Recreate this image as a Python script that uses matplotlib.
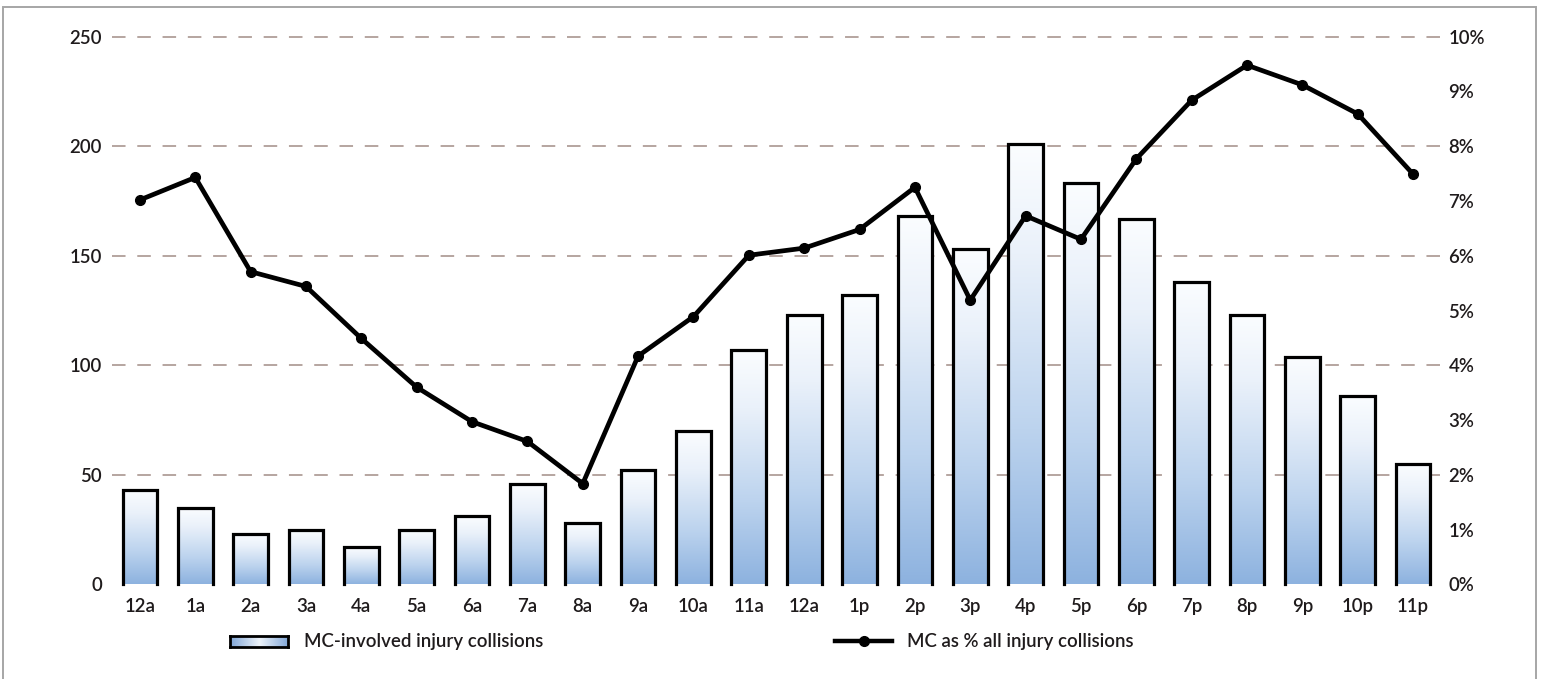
import numpy as np
import matplotlib
matplotlib.use("Agg")
import matplotlib.pyplot as plt
from matplotlib.patches import Rectangle
from matplotlib.lines import Line2D
from matplotlib.colors import LinearSegmentedColormap

# Hour-of-day categories
hours = ["12a", "1a", "2a", "3a", "4a", "5a", "6a", "7a", "8a", "9a", "10a", "11a",
         "12a", "1p", "2p", "3p", "4p", "5p", "6p", "7p", "8p", "9p", "10p", "11p"]

# Motorcycle-involved injury collisions per hour
mc_collisions = [43, 35, 23, 25, 17, 25, 31, 46, 28, 52, 70, 107,
                 123, 132, 168, 153, 201, 183, 167, 138, 123, 104, 86, 55]

# Motorcycle collisions as a share of all injury collisions (%)
mc_share = [7.02, 7.43, 5.71, 5.44, 4.49, 3.60, 2.97, 2.61, 1.84, 4.17, 4.89, 6.01,
            6.14, 6.48, 7.25, 5.19, 6.73, 6.30, 7.77, 8.84, 9.48, 9.12, 8.59, 7.49]

left_ticks = [0, 50, 100, 150, 200, 250]
right_ticks = [0, 1, 2, 3, 4, 5, 6, 7, 8, 9, 10]

FONT = "Lato"
WEIGHT = "semibold"
FSIZE = 13.4
TEXT_COLOR = "#1f1b1c"
GRID_COLOR = "#b09e98"

W, H = 1541, 679
fig = plt.figure(figsize=(W / 100, H / 100), dpi=100)
fig.patch.set_facecolor("white")

# thin grey frame around the chart panel
fig.patches.append(Rectangle((3 / W, -0.05), (1536 - 3) / W, 1.05 - 7 / H,
                             transform=fig.transFigure, fill=False,
                             edgecolor="#a6a6a6", linewidth=1.4))

ax_l, ax_r = 111.7 / W, 1443 / W
ax_b, ax_t = 1 - 584.4 / H, 1 - 36.7 / H
ax = fig.add_axes([ax_l, ax_b, ax_r - ax_l, ax_t - ax_b])
ax.set_xlim(-0.51, 23.54)
ax.set_ylim(0, 250)
for s in ax.spines.values():
    s.set_visible(False)

# dashed horizontal guides
for v in left_ticks[1:]:
    ln = ax.axhline(v, color=GRID_COLOR, linewidth=1.3, zorder=0, clip_on=False)
    ln.set_dashes((7.5, 6.5))

x = np.arange(len(hours))
bw = 0.627

# vertical gradient: pale at the top, soft blue at the bottom
bar_cmap = LinearSegmentedColormap.from_list(
    "barfill", [(0.0, "#8db2df"), (0.35, "#bcd3ee"), (0.75, "#eaf1fa"), (1.0, "#fbfdff")])
grad = np.linspace(0, 1, 256).reshape(-1, 1)

bars = ax.bar(x, mc_collisions, width=bw, facecolor="none", edgecolor="none", zorder=2)
for rect in bars:
    x0, w, h = rect.get_x(), rect.get_width(), rect.get_height()
    im = ax.imshow(grad, cmap=bar_cmap, origin="lower", aspect="auto",
                   extent=[x0, x0 + w, 0, h], zorder=2, interpolation="bilinear")
    im.set_clip_path(rect)
    ax.plot([x0, x0, x0 + w, x0 + w], [0, h, h, 0], color="black",
            linewidth=2.3, solid_joinstyle="miter", zorder=3, clip_on=False)

ax.set_xticks(x)
ax.set_xticklabels(hours)
ax.set_yticks(left_ticks)
ax.tick_params(axis="both", length=0, labelsize=FSIZE, colors=TEXT_COLOR)
ax.tick_params(axis="x", pad=10)
ax.tick_params(axis="y", pad=7)
for lab in ax.get_xticklabels() + ax.get_yticklabels():
    lab.set_fontfamily(FONT)
    lab.set_fontweight(WEIGHT)

ax2 = ax.twinx()
ax2.set_ylim(0, 10)
for s in ax2.spines.values():
    s.set_visible(False)
ax2.set_yticks(right_ticks)
ax2.set_yticklabels([f"{t}%" for t in right_ticks])
ax2.tick_params(axis="y", length=0, labelsize=FSIZE, colors=TEXT_COLOR, pad=4)
for lab in ax2.get_yticklabels():
    lab.set_fontfamily(FONT)
    lab.set_fontweight(WEIGHT)
ax2.plot(x, mc_share, color="black", linewidth=3.4, marker="o", markersize=7,
         zorder=5, clip_on=False)

# legend: gradient swatch for the bars
sw = fig.add_axes([230 / W, 1 - 647 / H, 58 / W, 11 / H])
leg_cmap = LinearSegmentedColormap.from_list("legfill", ["#7fa5d6", "#eef4fb", "#7fa5d6"])
sw.imshow(np.linspace(0, 1, 256).reshape(1, -1), cmap=leg_cmap, aspect="auto",
          interpolation="bilinear")
sw.set_xticks([])
sw.set_yticks([])
for s in sw.spines.values():
    s.set_linewidth(2.0)
    s.set_edgecolor("black")
fig.text(304 / W, 1 - 641.5 / H, "MC-involved injury collisions", family=FONT,
         weight=WEIGHT, fontsize=FSIZE, color=TEXT_COLOR, va="center", ha="left")

# legend: line with marker
fig.add_artist(Line2D([835 / W, 892 / W], [1 - 640.7 / H] * 2, transform=fig.transFigure,
                      color="black", linewidth=3.2))
fig.add_artist(Line2D([863.5 / W], [1 - 640.7 / H], transform=fig.transFigure,
                      color="black", marker="o", markersize=7))
fig.text(907 / W, 1 - 641.5 / H, "MC as % all injury collisions", family=FONT,
         weight=WEIGHT, fontsize=FSIZE, color=TEXT_COLOR, va="center", ha="left")

fig.savefig("out.png", dpi=100)
